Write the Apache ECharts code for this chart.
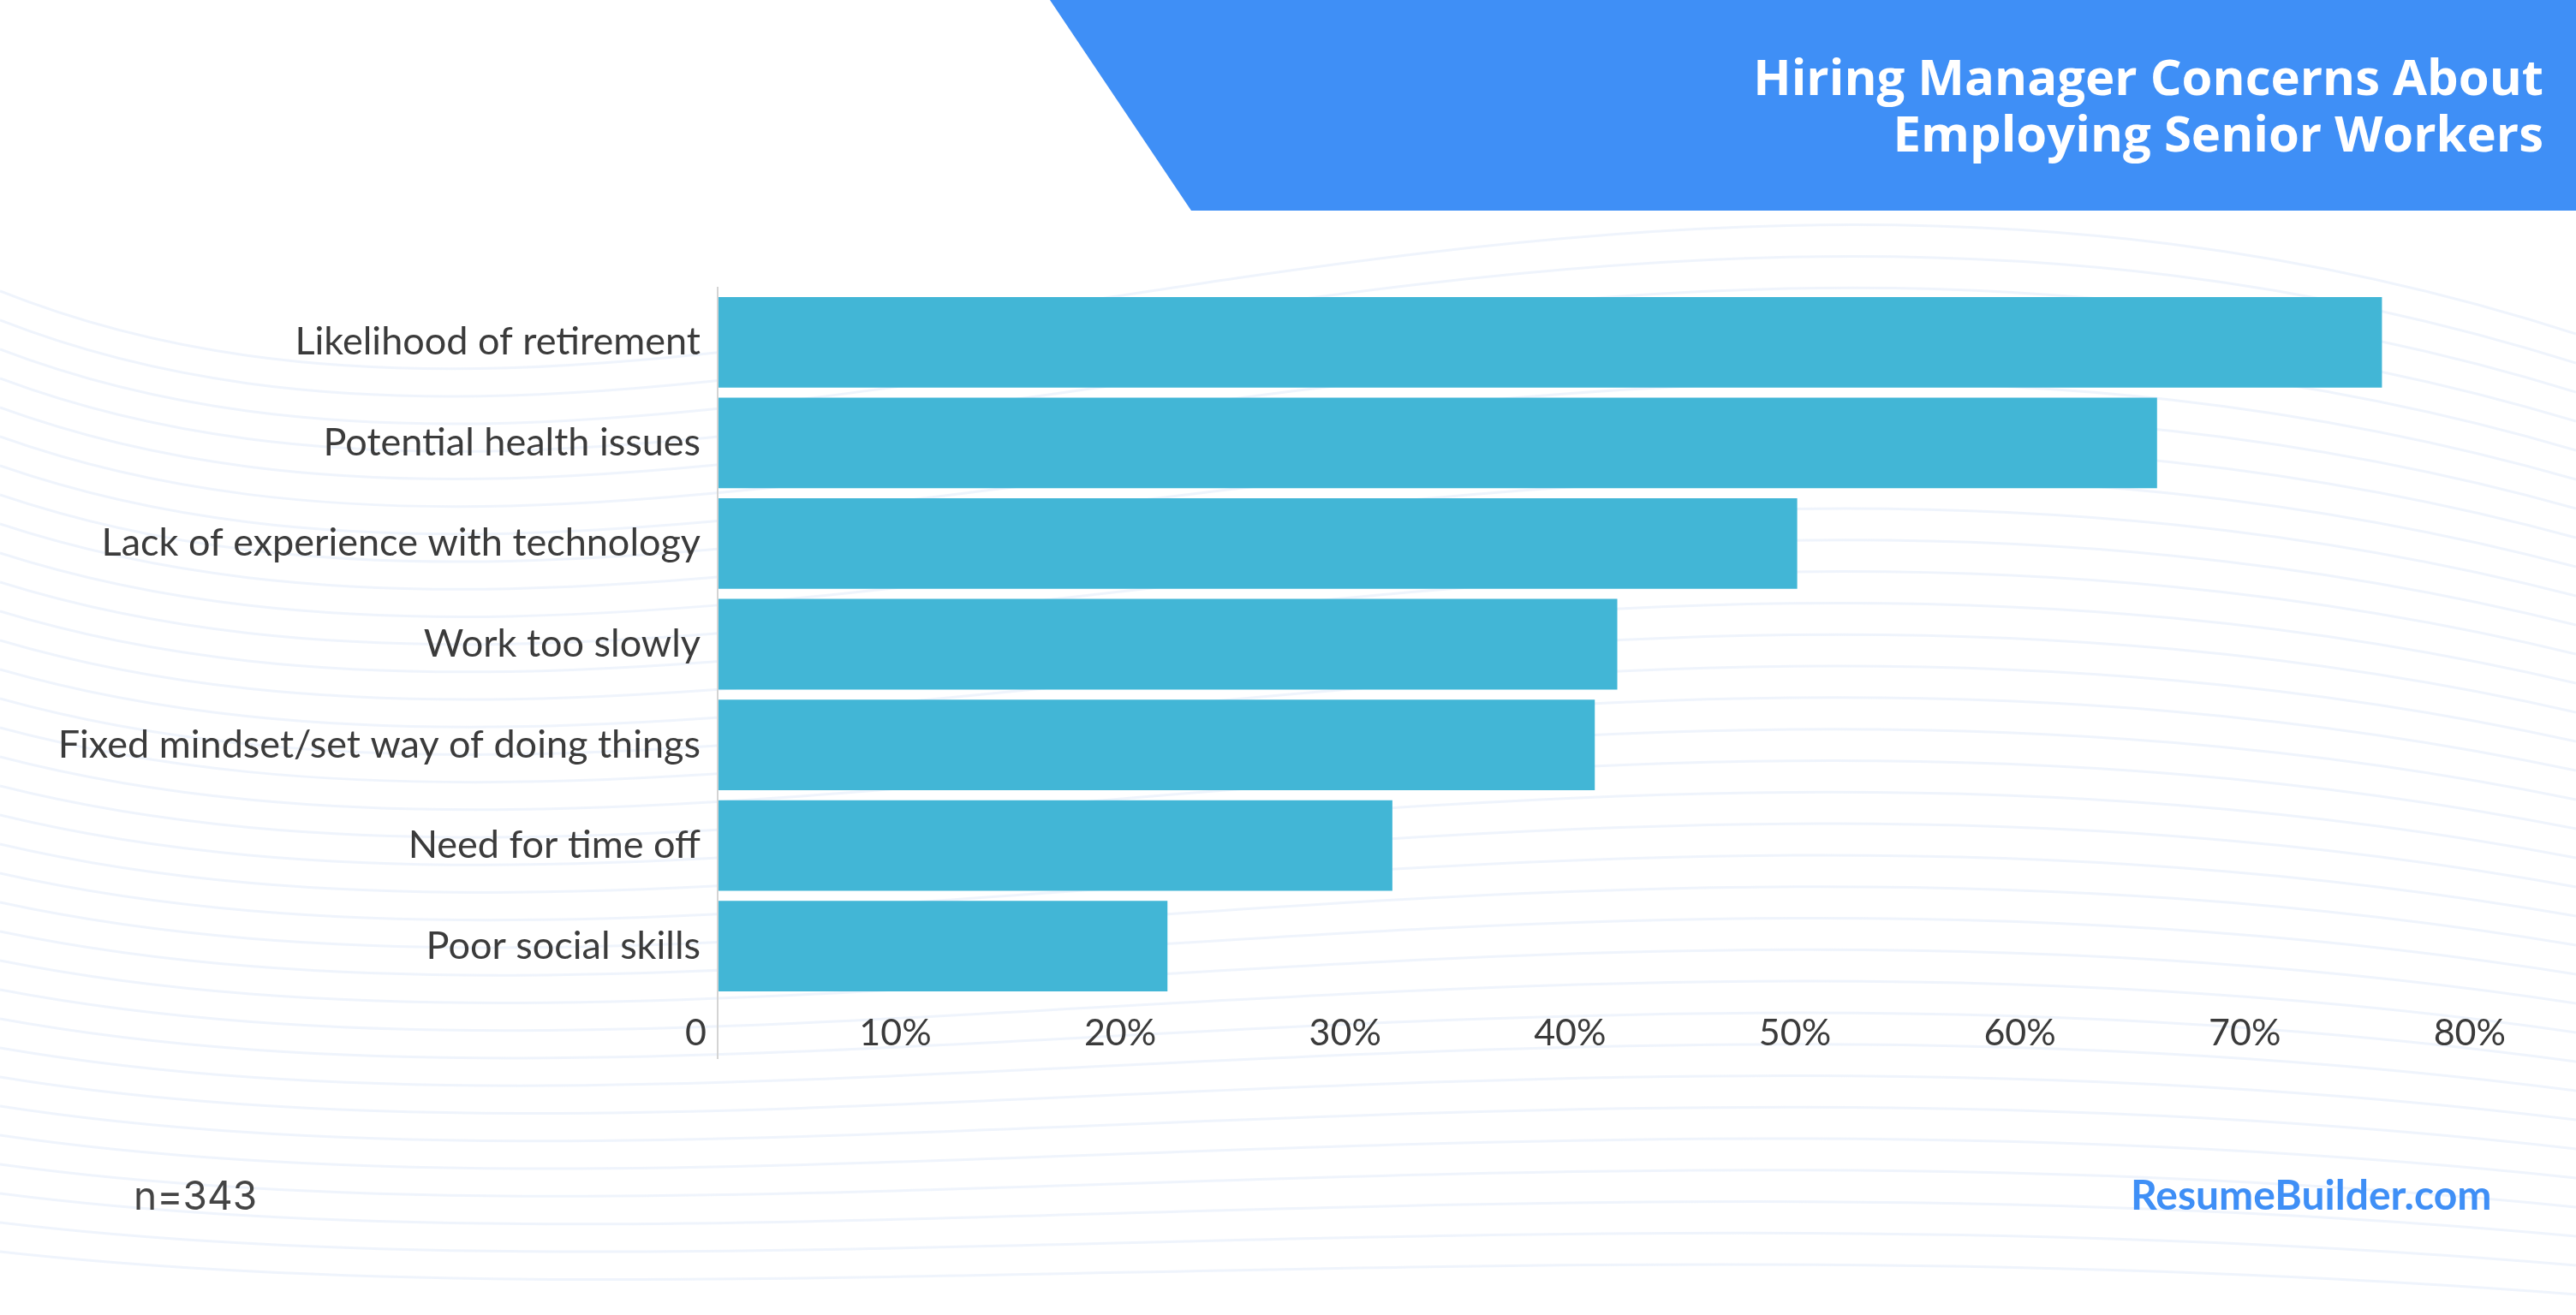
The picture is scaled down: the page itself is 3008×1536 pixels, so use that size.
<!DOCTYPE html>
<html>
<head>
<meta charset="utf-8">
<script src="https://cdn.jsdelivr.net/npm/echarts@6/dist/echarts.min.js"></script>
<style>
  html, body { margin: 0; padding: 0; background: #fff; }
  #chart { width: 3008px; height: 1536px; }
</style>
</head>
<body>
<div id="chart"></div>
<script>
// data
var categories = [
  "Likelihood of retirement",
  "Potential health issues",
  "Lack of experience with technology",
  "Work too slowly",
  "Fixed mindset/set way of doing things",
  "Need for time off",
  "Poor social skills"
];
var shares = [74, 64, 48, 40, 39, 30, 20];
var tickValues = [0, 10, 20, 30, 40, 50, 60, 70, 80];

var titleLines = ["Hiring Manager Concerns About", "Employing Senior Workers"];
var sampleNote = "n=343";
var brand = "ResumeBuilder.com";

var BLUE = "#3f8ff6";
var BAR = "#42b6d6";
var TEXT = "#3b3b3b";
var FONT = "Lato, 'Open Sans', sans-serif";

// faint wavy background lines (decoration only)
var waves = [];
for (var i = 0; i < 34; i++) {
  var y0 = 360 + i * 34;
  waves.push({
    type: "bezierCurve",
    silent: true,
    z: -10,
    shape: {
      x1: 0, y1: y0 - 20,
      x2: 3008, y2: y0 + 30,
      cpx1: 800, cpy1: y0 + 300 - i * 7,
      cpx2: 1800, cpy2: y0 - 360 + i * 9
    },
    style: { stroke: "rgba(214,228,248,0.4)", lineWidth: 3, fill: null }
  });
}

var myChart = echarts.init(document.getElementById("chart"));
var option = {
  backgroundColor: "#ffffff",
  animation: false,
  grid: {
    left: 838,
    top: 341,
    width: 2101,
    height: 823,
    containLabel: false
  },
  xAxis: {
    type: "value",
    min: tickValues[0],
    max: tickValues[tickValues.length - 1],
    interval: 10,
    splitLine: { show: false },
    axisLine: { show: false },
    axisTick: { show: false },
    axisLabel: {
      fontFamily: FONT,
      fontSize: 43,
      color: TEXT,
      margin: 22,
      align: "right",
      padding: [0, 13, 0, 0],
      formatter: function (v) {
        return v === 0 ? "0" : v + "%";
      }
    }
  },
  yAxis: {
    type: "category",
    inverse: true,
    data: categories,
    axisLine: { show: true, lineStyle: { color: "#d4d4d4", width: 2 } },
    axisTick: { show: false },
    axisLabel: {
      fontFamily: FONT,
      fontSize: 45,
      color: TEXT,
      margin: 20
    }
  },
  series: [
    {
      type: "bar",
      data: shares,
      barCategoryGap: "10%",
      itemStyle: { color: BAR },
      silent: true
    }
  ],
  graphic: waves.concat([
    {
      type: "polygon",
      z: 5,
      shape: { points: [[1226, 0], [3008, 0], [3008, 246], [1391, 246]] },
      style: { fill: BLUE }
    },
    {
      type: "text",
      z: 6,
      x: 2970,
      y: 61,
      style: {
        text: titleLines.join("\n"),
        fill: "#ffffff",
        font: "bold 58px 'Open Sans', sans-serif",
        lineHeight: 66,
        align: "right",
        verticalAlign: "top"
      }
    },
    {
      // axis line runs a little above the bars and down past them
      type: "line",
      z: 4,
      shape: { x1: 838, y1: 335, x2: 838, y2: 1237 },
      style: { stroke: "#d4d4d4", lineWidth: 2 }
    },
    {
      type: "text",
      z: 6,
      left: 156,
      top: 1376,
      style: {
        text: sampleNote,
        fill: "#444444",
        font: "46px Inter, 'Noto Sans', sans-serif"
      }
    },
    {
      type: "text",
      z: 6,
      left: 2488,
      top: 1374,
      style: {
        text: brand,
        fill: BLUE,
        font: "bold 48px Lato, sans-serif"
      }
    }
  ])
};
myChart.setOption(option);
</script>
</body>
</html>
